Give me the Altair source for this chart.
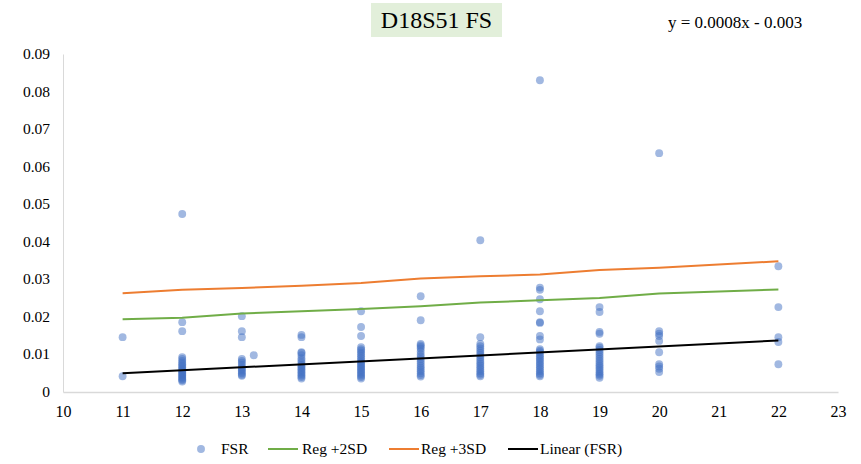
import altair as alt
import pandas as pd

# ---- data ----
fsr = {
    11: [0.0146, 0.0042],
    12: [0.0474, 0.0186, 0.0162, 0.0093, 0.0088, 0.0083, 0.0078, 0.0074, 0.0070, 0.0066,
         0.0062, 0.0058, 0.0055, 0.0052, 0.0049, 0.0046, 0.0043, 0.0040, 0.0037, 0.0034,
         0.0031, 0.0028],
    13: [0.0202, 0.0162, 0.0146, 0.0088, 0.0083, 0.0078, 0.0072, 0.0066, 0.0062, 0.0058,
         0.0054, 0.0050, 0.0046, 0.0043],
    13.2: [0.0098],
    14: [0.0152, 0.0146, 0.0106, 0.0104, 0.0098, 0.0090, 0.0084, 0.0078, 0.0072, 0.0068,
         0.0064, 0.0060, 0.0056, 0.0052, 0.0048, 0.0044, 0.0040, 0.0036],
    15: [0.0215, 0.0173, 0.0149, 0.0119, 0.0114, 0.0110, 0.0105, 0.0100, 0.0095, 0.0090,
         0.0085, 0.0080, 0.0076, 0.0072, 0.0068, 0.0064, 0.0060, 0.0056, 0.0052, 0.0048,
         0.0044, 0.0040, 0.0036],
    16: [0.0255, 0.0191, 0.0128, 0.0124, 0.0120, 0.0115, 0.0108, 0.0100, 0.0094, 0.0088,
         0.0082, 0.0076, 0.0070, 0.0065, 0.0060, 0.0055, 0.0050, 0.0045, 0.0041],
    17: [0.0404, 0.0146, 0.0128, 0.0122, 0.0116, 0.0110, 0.0104, 0.0098, 0.0092, 0.0086,
         0.0080, 0.0075, 0.0070, 0.0065, 0.0060, 0.0055, 0.0050, 0.0046, 0.0042],
    18: [0.0830, 0.0278, 0.0272, 0.0247, 0.0215, 0.0186, 0.0184, 0.0149, 0.0140, 0.0114,
         0.0110, 0.0106, 0.0100, 0.0095, 0.0090, 0.0085, 0.0080, 0.0075, 0.0070, 0.0065,
         0.0060, 0.0055, 0.0050, 0.0046, 0.0042],
    19: [0.0226, 0.0213, 0.0160, 0.0155, 0.0122, 0.0118, 0.0112, 0.0106, 0.0100, 0.0094,
         0.0088, 0.0082, 0.0076, 0.0071, 0.0066, 0.0061, 0.0056, 0.0051, 0.0047, 0.0043,
         0.0038],
    20: [0.0636, 0.0162, 0.0155, 0.0149, 0.0136, 0.0106, 0.0074, 0.0068, 0.0062, 0.0053],
    22: [0.0335, 0.0226, 0.0146, 0.0133, 0.0074],
}

reg_x = [11, 12, 13, 14, 15, 16, 17, 18, 19, 20, 22]
reg_2sd = [0.0194, 0.0198, 0.0209, 0.0215, 0.0221, 0.0228, 0.0238, 0.0244, 0.0250, 0.0262, 0.0273]
reg_3sd = [0.0263, 0.0272, 0.0277, 0.0283, 0.0290, 0.0302, 0.0308, 0.0313, 0.0325, 0.0331, 0.0348]

lin_x = [11, 22]
lin_y = [0.0050, 0.0137]

y_ticks = [0, 0.01, 0.02, 0.03, 0.04, 0.05, 0.06, 0.07, 0.08, 0.09]
y_tick_labels = ["0", "0.01", "0.02", "0.03", "0.04", "0.05", "0.06", "0.07", "0.08", "0.09"]

title_text = "D18S51 FS"
equation_text = "y = 0.0008x  - 0.003"
legend_labels = ["FSR", "Reg +2SD", "Reg +3SD", "Linear (FSR)"]

# ---- build tables ----
pts = pd.DataFrame([(x, v) for x, vals in fsr.items() for v in vals], columns=["x", "y"])
reg = pd.DataFrame({"x": reg_x, "y2": reg_2sd, "y3": reg_3sd})
lin = pd.DataFrame({"x": lin_x, "y": lin_y})
ylab = pd.DataFrame({"y": y_ticks, "label": y_tick_labels})

FONT = "Liberation Serif"
W, H = 775, 338

xscale = alt.Scale(domain=[10, 23], nice=False, zero=False)
yscale = alt.Scale(domain=[0, 0.09], nice=False)

xaxis = alt.Axis(values=list(range(10, 24)), ticks=False, grid=False, domainColor="#d9d9d9",
                 domainWidth=1.5, labelFont=FONT, labelFontSize=16, labelColor="#000",
                 labelPadding=11, title=None, format="d", labelOverlap=False,
                 labelFlush=False)
yaxis = alt.Axis(ticks=False, grid=False, labels=False, domainColor="#d9d9d9", title=None)

points = alt.Chart(pts).mark_circle(size=62, color="#4472C4", opacity=0.5).encode(
    x=alt.X("x:Q", scale=xscale, axis=xaxis),
    y=alt.Y("y:Q", scale=yscale, axis=yaxis),
)

# y tick labels placed through the y scale
ylabels = alt.Chart(ylab).mark_text(font=FONT, fontSize=15.5, color="#000", align="right",
                                    baseline="middle").encode(
    x=alt.value(-13), y=alt.Y("y:Q", scale=yscale), text="label:N")

base_reg = alt.Chart(reg)
line2 = base_reg.mark_line(color="#70AD47", strokeWidth=2).encode(
    x=alt.X("x:Q", scale=xscale), y=alt.Y("y2:Q", scale=yscale))
line3 = base_reg.mark_line(color="#ED7D31", strokeWidth=2).encode(
    x=alt.X("x:Q", scale=xscale), y=alt.Y("y3:Q", scale=yscale))
linear = alt.Chart(lin).mark_line(color="#000000", strokeWidth=2).encode(
    x=alt.X("x:Q", scale=xscale), y=alt.Y("y:Q", scale=yscale))

one = pd.DataFrame({"a": [0]})
title_bg = alt.Chart(one).mark_rect(color="#E2EFDA").encode(
    x=alt.value(308), x2=alt.value(439), y=alt.value(-51), y2=alt.value(-17))
title = alt.Chart(one).mark_text(text=title_text, font=FONT, fontSize=24, color="#000",
                                 align="center", baseline="middle").encode(
    x=alt.value(373.5), y=alt.value(-33))
equation = alt.Chart(one).mark_text(text=equation_text, font=FONT, fontSize=17, color="#000",
                                    align="left", baseline="middle").encode(
    x=alt.value(605), y=alt.value(-31))

# ---- manual legend ----
LY = 395
leg_pt = alt.Chart(one).mark_circle(size=62, color="#4472C4", opacity=0.5).encode(
    x=alt.value(138), y=alt.value(LY))
leg_g = alt.Chart(one).mark_rule(color="#70AD47", strokeWidth=2).encode(
    x=alt.value(205), x2=alt.value(235), y=alt.value(LY))
leg_o = alt.Chart(one).mark_rule(color="#ED7D31", strokeWidth=2).encode(
    x=alt.value(326), x2=alt.value(356), y=alt.value(LY))
leg_k = alt.Chart(one).mark_rule(color="#000000", strokeWidth=2).encode(
    x=alt.value(445), x2=alt.value(475), y=alt.value(LY))
leg_text_x = [158, 239, 358, 477]
leg_texts = [
    alt.Chart(one).mark_text(text=t, font=FONT, fontSize=15.5, color="#000", align="left",
                             baseline="middle").encode(x=alt.value(px), y=alt.value(LY))
    for t, px in zip(legend_labels, leg_text_x)
]

chart = alt.layer(
    title_bg, title, equation, points, ylabels, line2, line3, linear,
    leg_pt, leg_g, leg_o, leg_k, *leg_texts
).properties(
    width=W, height=H,
    autosize=alt.AutoSizeParams(type="none"),
    padding={"left": 63, "top": 54, "right": 23, "bottom": 72},
    background="white",
).configure_view(stroke=None)

chart.save("out.html", embed_options={"renderer": "svg", "actions": False})
